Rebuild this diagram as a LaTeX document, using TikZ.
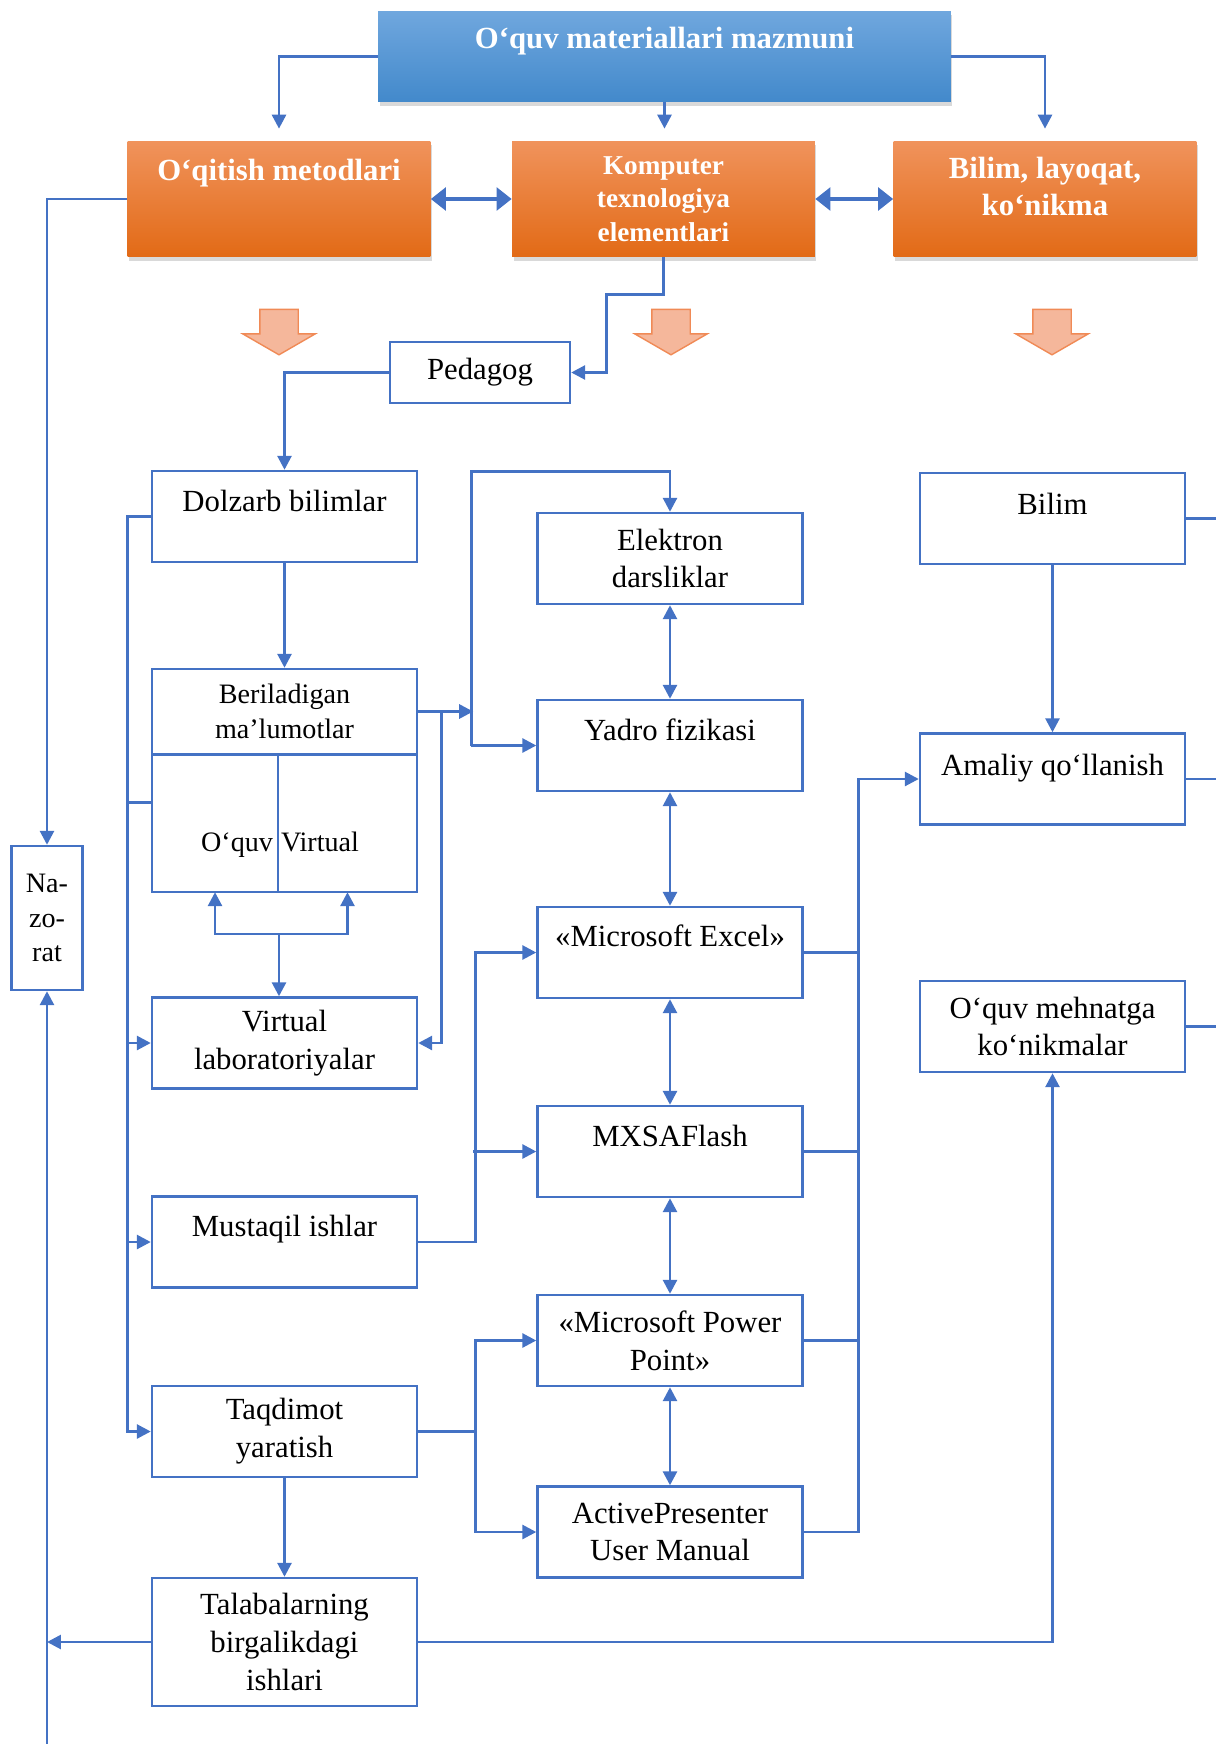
\documentclass[tikz,border=0pt]{standalone}
\usepackage{fontspec}
\setmainfont{Liberation Serif}
\usetikzlibrary{arrows.meta,positioning,shapes.arrows,shadows}

\definecolor{lineblue}{HTML}{4472C4}
\definecolor{topblue}{HTML}{70A7DE}
\definecolor{botblue}{HTML}{4289CB}
\definecolor{orgtop}{HTML}{F0935C}
\definecolor{orgmid}{HTML}{F47C2A}
\definecolor{orgbot}{HTML}{E26A16}
\definecolor{arrfill}{HTML}{F5B79B}
\definecolor{arredge}{HTML}{F08A56}

\begin{document}
\begin{tikzpicture}[x=0.02cm, y=-0.02cm,
  every node/.style={font=\fontsize{17.5}{21.5}\selectfont},
  box/.style={draw=lineblue, line width=1.4pt, fill=white, minimum width=5.3cm,
    minimum height=1.82cm, align=center, inner sep=1mm},
  upper/.style={text height=0.45cm, text depth=#1},
  upper/.default=0.67cm,
  half/.style={box, anchor=north west, minimum width=0pt, minimum height=2.74cm, outer sep=0pt,
    text height=1.25cm, text depth=0.15cm, font=\fontsize{16}{19.5}\selectfont},
  head/.style={minimum width=6.06cm, minimum height=2.32cm, align=center, text=white,
    font=\bfseries\fontsize{17.5}{21}\selectfont, top color=orgtop, middle color=orgmid,
    bottom color=orgbot, drop shadow={shadow xshift=0.03cm, shadow yshift=-0.08cm, opacity=0.3}},
  topbox/.style={head, minimum width=11.46cm, minimum height=1.82cm,
    top color=topblue, bottom color=botblue},
  blockarr/.style={single arrow, rotate=-90, draw=arredge, fill=arrfill,
    line width=0.8pt, inner xsep=0.33cm, inner ysep=0.37cm,
    single arrow head extend=0.34cm, single arrow tip angle=120},
  wire/.style={draw=lineblue, line width=1.6pt},
  conn/.style={wire, -{Triangle[length=2.8mm,width=2.8mm]}},
  dbl/.style={wire, {Triangle[length=2.8mm,width=2.8mm]}-{Triangle[length=2.8mm,width=2.8mm]}},
  wide/.style={wire, line width=2.2pt, {Triangle[length=3mm,width=4.5mm]}-{Triangle[length=3mm,width=4.5mm]}}]
  \useasboundingbox (0,0) rectangle (1216,1744);

  % Top row
  \node[topbox, upper=0.77cm] (mazmun) at (664.5,56.5) {O‘quv materiallari mazmuni};
  \node[head, upper=1.21cm] (metod) at (279,199) {O‘qitish metodlari};
  \node[head, font=\bfseries\fontsize{15.5}{19}\selectfont] (komp) at (663.5,199) {Komputer\\texnologiya\\elementlari};
  \node[head, text depth=0.5cm] (bilimk) at (1045,199) {Bilim, layoqat,\\ko‘nikma};
  \node[blockarr] (dn1) at (279,326.5) {};
  \node[blockarr] (dn2) at (671,326.5) {};
  \node[blockarr] (dn3) at (1052,326.5) {};

  % Left column
  \node[box, minimum width=3.6cm, minimum height=1.22cm] (pedagog) at (480,372.5) {Pedagog};
  \node[box, minimum width=1.42cm, minimum height=2.88cm, font=\fontsize{16}{19.5}\selectfont] (naz) at (47,918) {Na-\\zo-\\rat};
  \node[box, upper] (dolz) at (284.5,516.5) {Dolzarb bilimlar};
  \node[box, minimum height=1.7cm, font=\fontsize{16}{19.5}\selectfont] (ber) at (284.5,711.5) {Beriladigan\\ma’lumotlar};
  \node[half, text width=2.32cm, align=right] (oquv) at ([xshift=0.7pt]ber.south west) {O‘quv};
  \node[half, text width=2.66cm, align=left, inner xsep=0.6mm] (virt) at (oquv.north east) {Virtual};
  \node[box] (vlab) at (284.5,1043) {Virtual\\laboratoriyalar};
  \node[box, upper] (must) at (284.5,1242) {Mustaqil ishlar};
  \node[box] (taq) at (284.5,1431.5) {Taqdimot\\yaratish};
  \node[box, minimum height=2.56cm] (tal) at (284.5,1642) {Talabalarning\\birgalikdagi\\ishlari};

  % Middle column
  \node[box] (elek) at (670,558.5) {Elektron\\darsliklar};
  \node[box, upper] (yadro) at (670,745.5) {Yadro fizikasi};
  \node[box, upper=0.7cm] (excel) at (670,952.5) {«Microsoft Excel»};
  \node[box, upper] (mxsa) at (670,1151.5) {MXSAFlash};
  \node[box] (ppt) at (670,1340.5) {«Microsoft Power\\Point»};
  \node[box] (actp) at (670,1532) {ActivePresenter\\User Manual};

  % Right column
  \node[box, upper=0.63cm] (bilim) at (1052.5,518.5) {Bilim};
  \node[box, upper=0.61cm] (amal) at (1052.5,779) {Amaliy qo‘llanish};
  \node[box] (mehn) at (1052.5,1026.5) {O‘quv mehnatga\\ko‘nikmalar};

  \coordinate (jn) at (279,934);
  \coordinate (nbot) at (47,1744);
  \coordinate (redge) at (1216,0);

  % Edges from the top
  \draw[conn, shorten >=2.4mm] (mazmun.west) -| (metod.north);
  \draw[conn, shorten >=2.4mm] (mazmun.east) -| (bilimk.north);
  \draw[conn, shorten >=2.4mm] (mazmun.south) -- (mazmun.south |- komp.north);
  \draw[wide] (metod.east) -- (komp.west);
  \draw[wide] (komp.east) -- (bilimk.west);

  % Left side
  \draw[conn] (komp.south) -- ++(0,37) -- ++(-57,0) |- (pedagog.east);
  \draw[conn] (pedagog.west) -| (dolz.north);
  \draw[conn] (dolz.south) -- (ber.north);
  \draw[conn] (jn) -| (oquv.south);
  \draw[conn] (jn) -| (virt.south);
  \draw[conn] (jn) -- (jn |- vlab.north);
  \draw[conn] (taq.south) -- (tal.north);
  \draw[conn] (dolz.west) -- ++(-23,0) |- (taq.west);
  \draw[wire] ([yshift=0.43cm]oquv.west) -- ++(-23,0);
  \foreach \n in {vlab,must} \draw[conn] (\n.west) ++(-23,0) -- (\n.west);
  \draw[conn] (metod.west) -| (naz.north);
  \draw[conn] (nbot) -- (naz.south);
  \draw[conn] (tal.west) -- (tal.west -| nbot);

  % Middle
  \foreach \a/\b in {elek/yadro, yadro/excel, excel/mxsa, mxsa/ppt, ppt/actp}
    \draw[dbl] (\a.south) -- (\b.north);
  \draw[conn] (ber.east) -- ++(55,0);
  \draw[conn] (ber.east) -- ++(23.5,0) |- (vlab.east);
  \draw[conn] (yadro.west) ++(-65,0) |- ([yshift=0.8cm]elek.north) -- (elek.north);
  \draw[conn] (yadro.west) ++(-65,0) -- (yadro.west);
  \draw[conn] (must.east) -- ++(57,0) |- (excel.west);
  \draw[conn] (mxsa.west) ++(-63,0) -- (mxsa.west);
  \draw[conn] (taq.east) -- ++(57,0) |- (ppt.west);
  \draw[conn] (taq.east) ++(57,0) |- (actp.west);

  % Right side
  \draw[conn] (actp.east) -- ++(55,0) |- (amal.west);
  \foreach \n in {excel,mxsa,ppt} \draw[wire] (\n.east) -- ++(55,0);
  \draw[conn] (bilim.south) -- (amal.north);
  \foreach \n in {bilim,amal,mehn} \draw[wire] (\n.east) -- (\n.east -| redge);
  \draw[conn] (tal.east) -| (mehn.south);
\end{tikzpicture}
\end{document}
